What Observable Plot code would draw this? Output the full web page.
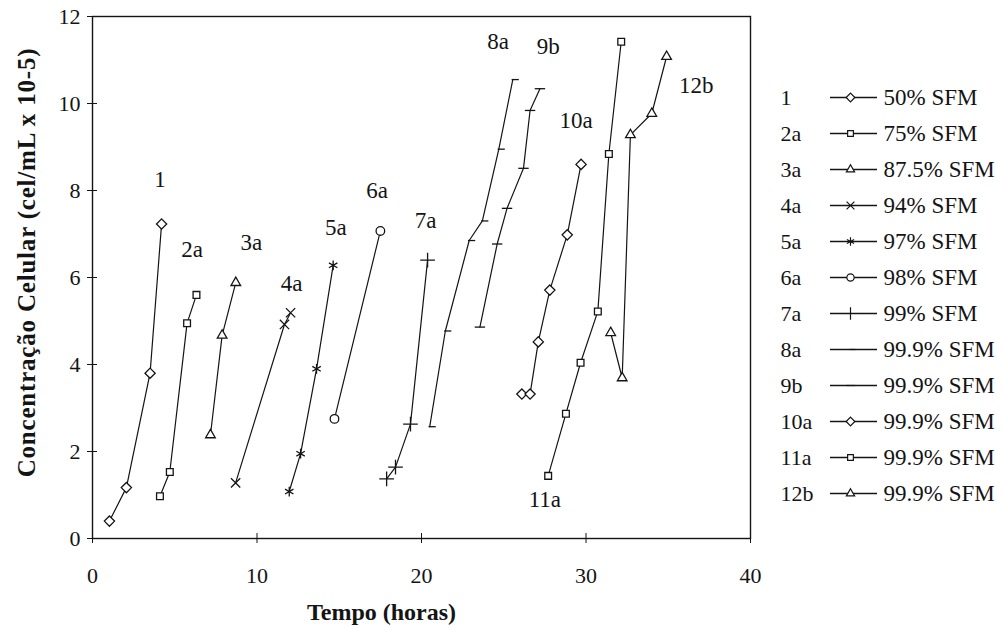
<!DOCTYPE html>
<html><head><meta charset="utf-8">
<script src="https://cdn.jsdelivr.net/npm/d3@7"></script>
<script src="https://cdn.jsdelivr.net/npm/@observablehq/plot@0.6"></script>
<style>
body{margin:0;background:#fff;font-family:"Liberation Serif",serif;}
#wrap{display:flex;width:1005px;height:628px;overflow:hidden;}
</style></head><body><div id="wrap"></div>
<script>
// ---- data ----
const seriesIds  = ["1","2a","3a","4a","5a","6a","7a","8a","9b","10a","11a","12b"];
const seriesDesc = ["50% SFM","75% SFM","87.5% SFM","94% SFM","97% SFM","98% SFM","99% SFM",
                    "99.9% SFM","99.9% SFM","99.9% SFM","99.9% SFM","99.9% SFM"];
const s1x  = [1.03, 2.06, 3.5, 4.2];            const s1y  = [0.4, 1.17, 3.8, 7.23];
const s2x  = [4.1, 4.7, 5.75, 6.32];            const s2y  = [0.97, 1.53, 4.95, 5.6];
const s3x  = [7.17, 7.88, 8.71];                const s3y  = [2.38, 4.67, 5.88];
const s4x  = [8.7, 11.67, 12.04];               const s4y  = [1.28, 4.92, 5.19];
const s5x  = [11.96, 12.65, 13.62, 14.63];      const s5y  = [1.08, 1.95, 3.9, 6.28];
const s6x  = [14.71, 17.5];                     const s6y  = [2.75, 7.07];
const s7x  = [17.88, 18.42, 19.33, 20.37];      const s7y  = [1.37, 1.64, 2.63, 6.4];
const s8x  = [20.5, 21.45, 22.9, 23.7, 24.7, 25.55];  const s8y  = [2.57, 4.77, 6.85, 7.3, 8.95, 10.55];
const s9x  = [23.55, 24.6, 25.2, 26.2, 26.6, 27.2];   const s9y  = [4.86, 6.77, 7.59, 8.51, 9.84, 10.34];
const s10x = [26.1, 26.6, 27.1, 27.8, 28.86, 29.7];   const s10y = [3.32, 3.32, 4.52, 5.71, 6.98, 8.6];
const s11x = [27.7, 28.78, 29.67, 30.72, 31.39, 32.14]; const s11y = [1.44, 2.87, 4.04, 5.22, 8.84, 11.42];
const s12x = [31.5, 32.2, 32.7, 34.0, 34.9];    const s12y = [4.73, 3.69, 9.28, 9.77, 11.08];
// curve labels
const labelText = ["1","2a","3a","4a","5a","6a","7a","8a","9b","10a","11a","12b"];
const labelX    = [4.1, 6.05, 9.65, 12.1, 14.8, 17.3, 20.25, 24.65, 27.7, 29.4, 27.5, 36.7];
const labelY    = [8.25, 6.65, 6.8, 5.85, 7.15, 8.0, 7.3, 11.42, 11.3, 9.6, 0.89, 10.4];
const xTicks = [0, 10, 20, 30, 40];
const yTicks = [0, 2, 4, 6, 8, 10, 12];
const xTitle = "Tempo (horas)";
const yTitle = "Concentração Celular (cel/mL x 10-5)";

// ---- build ----
const FONT = "Liberation Serif";
const xs = [s1x,s2x,s3x,s4x,s5x,s6x,s7x,s8x,s9x,s10x,s11x,s12x];
const ys = [s1y,s2y,s3y,s4y,s5y,s6y,s7y,s8y,s9y,s10y,s11y,s12y];
const rows = [];
seriesIds.forEach((id, i) => xs[i].forEach((x, j) => rows.push({id, x, y: ys[i][j]})));
const labels = labelText.map((t, i) => ({t, x: labelX[i], y: labelY[i]}));

const dashC = {draw(ctx, size){ const r = Math.sqrt(size/Math.PI); ctx.moveTo(-r*1.3,0); ctx.lineTo(r*1.3,0); }};
const dashR = {draw(ctx, size){ const r = Math.sqrt(size/Math.PI); ctx.moveTo(-r*0.3,0); ctx.lineTo(r*1.5,0); }};
const symbols = {"1":"diamond2","2a":"square2","3a":"triangle2","4a":"times","5a":"asterisk","6a":"circle2",
  "7a":"plus","8a":dashR,"9b":dashC,"10a":"diamond2","11a":"square2","12b":"triangle2"};
const ink = "#141414";
const dotR = {"1":4.6,"10a":4.6,"2a":4.3,"11a":4.3,"3a":4.6,"12b":4.6,"4a":4.3,"5a":4.6,"6a":4.3,"7a":4.8,"8a":4,"9b":4};

const dotMarks = seriesIds.map(id => Plot.dot(rows.filter(d => d.id === id),
  {x:"x", y:"y", symbol: symbols[id], r: dotR[id], stroke: ink, fill: "white", strokeWidth: 1.3}));

const chart = Plot.plot({
  width: 770, height: 628,
  marginLeft: 92, marginRight: 20, marginTop: 16, marginBottom: 90,
  style: {background: "white", color: ink},
  x: {domain: [0, 40]},
  y: {domain: [0, 12]},
  marks: [
    Plot.frame({stroke: ink, strokeWidth: 1.4}),
    Plot.axisY(yTicks, {tickSize: 5, tickPadding: 7, fontSize: 22, fontFamily: FONT, label: null}),
    Plot.axisY(yTicks, {tickSize: 5, dx: 5, tickFormat: () => "", label: null}),
    Plot.axisX(xTicks, {tickSize: 5, tickPadding: 24, fontSize: 22, fontFamily: FONT, label: null}),
    Plot.axisX(xTicks, {tickSize: 5, dy: -5, tickFormat: () => "", label: null}),
    Plot.line(rows, {x: "x", y: "y", z: "id", stroke: ink, strokeWidth: 1.2}),
    ...dotMarks,
    Plot.text(labels, {x: "x", y: "y", text: "t", fontSize: 23, fontFamily: FONT, fill: ink}),
    Plot.text([xTitle], {frameAnchor: "bottom", textAnchor: "middle", lineAnchor: "middle", dx: -40, dy: 74,
      fontSize: 24, fontWeight: "bold", fontFamily: FONT, fill: ink}),
    Plot.text([yTitle], {frameAnchor: "left", textAnchor: "middle", lineAnchor: "middle", rotate: -90, dx: -66, dy: -15,
      fontSize: 25, fontWeight: "bold", fontFamily: FONT, fill: ink})
  ]
});

const legendRows = seriesIds.map((id, i) => ({id, desc: seriesDesc[i]}));
const legendDots = seriesIds.map(id => Plot.dot(legendRows.filter(d => d.id === id),
  {x: () => 80, y: "id", symbol: symbols[id], r: dotR[id] * 0.85, stroke: ink, fill: "white", strokeWidth: 1.2}));
const legend = Plot.plot({
  width: 235, height: 628, margin: 0,
  style: {background: "white", color: ink},
  x: {type: "linear", domain: [0, 235], range: [0, 235], axis: null},
  y: {type: "point", domain: seriesIds, range: [93, 497], padding: 0, axis: null},
  marks: [
    Plot.text(legendRows, {x: () => 10, y: "id", text: "id", textAnchor: "start", fontSize: 22, fontFamily: FONT, fill: ink}),
    Plot.ruleY(legendRows, {y: "id", x1: () => 60, x2: () => 107, stroke: ink, strokeWidth: 1.5}),
    ...legendDots,
    Plot.text(legendRows, {x: () => 113, y: "id", text: "desc", textAnchor: "start", fontSize: 23, fontFamily: FONT, fill: ink})
  ]
});

const wrap = document.getElementById("wrap");
wrap.appendChild(chart);
wrap.appendChild(legend);
// force the serif face on every text node of both charts
d3.selectAll("#wrap svg").style("font-family", "'Liberation Serif', serif");
d3.selectAll("#wrap svg text").style("font-family", "'Liberation Serif', serif");
d3.select(chart).selectAll("text").filter(function(){ return this.textContent === yTitle; }).style("letter-spacing", "0.8px");
</script>
</body></html>
